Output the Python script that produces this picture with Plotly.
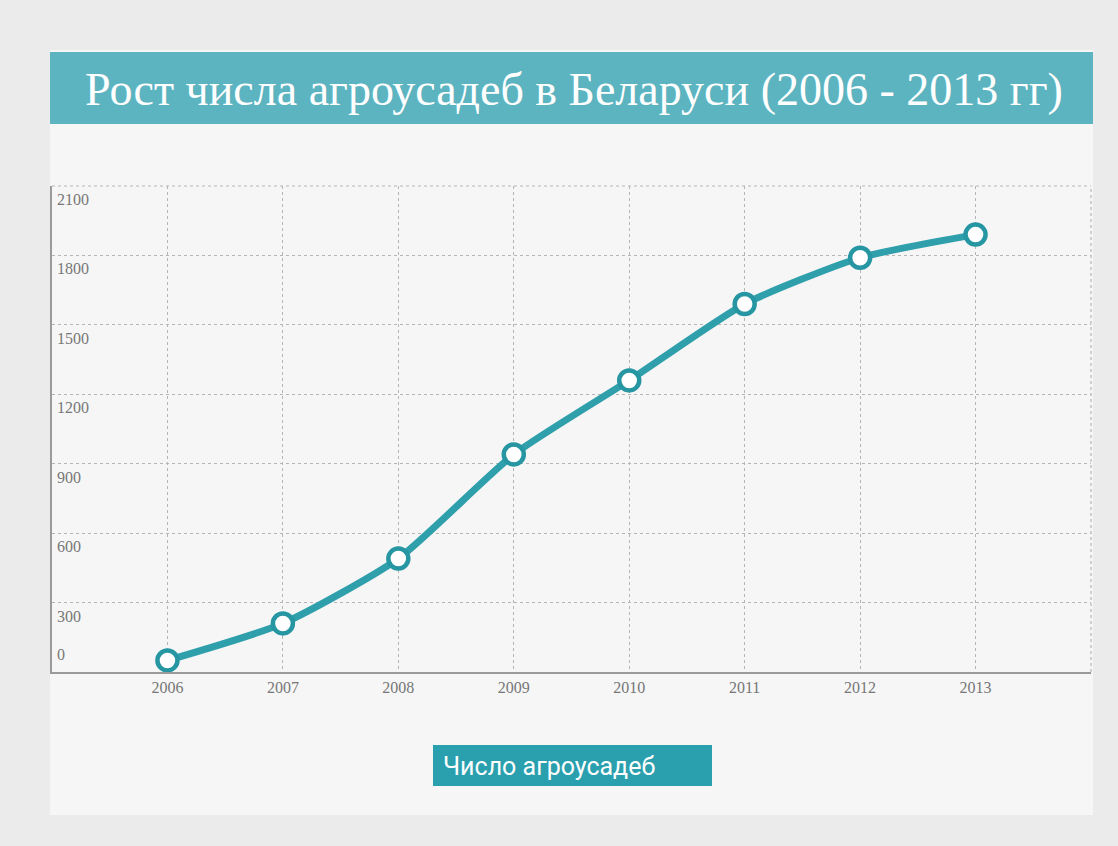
import plotly.graph_objects as go

years = [2006, 2007, 2008, 2009, 2010, 2011, 2012, 2013]
values = [50, 210, 490, 940, 1260, 1590, 1790, 1890]
y_ticks = [0, 300, 600, 900, 1200, 1500, 1800, 2100]
title_text = "Рост числа агроусадеб в Беларуси (2006 - 2013 гг)"
legend_text = "Число агроусадеб"

W, H = 1118, 846
L, R, T, B = 52, 1091, 186, 672

TEAL = "#2e9fab"
TITLE_BG = "#5db4c1"
PANEL = "#f6f6f6"
GRID = "#b5b5b5"
TXT = "#777777"

fig = go.Figure()
fig.add_trace(go.Scatter(
    x=years, y=values, mode="lines+markers",
    line=dict(color=TEAL, width=7, shape="spline", smoothing=0.6),
    marker=dict(size=20, color="white", line=dict(color="#2796a3", width=4.5)),
    showlegend=False, cliponaxis=False,
))


def px(xp):
    # screen pixel -> paper fraction (paper spans the plot area)
    return (xp - L) / (R - L)


def py(yp):
    return (B - yp) / (B - T)


shapes = [
    dict(type="rect", xref="paper", yref="paper", x0=px(50), x1=px(1093), y0=py(815), y1=py(50),
         fillcolor=PANEL, line=dict(width=0), layer="below"),
    dict(type="rect", xref="paper", yref="paper", x0=px(50), x1=px(1093), y0=py(124), y1=py(52),
         fillcolor=TITLE_BG, line=dict(width=0), layer="below"),
    dict(type="rect", xref="paper", yref="paper", x0=px(433), x1=px(712), y0=py(786), y1=py(745),
         fillcolor="#2a9fae", line=dict(width=0), layer="below"),
    dict(type="line", xref="x domain", yref="y domain", x0=1, x1=1, y0=0, y1=1,
         line=dict(color=GRID, width=1.2, dash="dot"), layer="below"),
    dict(type="line", xref="x domain", yref="y domain", x0=0, x1=1, y0=1, y1=1,
         line=dict(color=GRID, width=1.2, dash="dot"), layer="below"),
]

annotations = [
    dict(text=title_text, xref="paper", yref="paper", x=px(574), y=py(89), showarrow=False,
         xanchor="center", yanchor="middle",
         font=dict(family="Liberation Serif, DejaVu Serif, serif", size=46, color="white")),
    dict(text=legend_text, xref="paper", yref="paper", x=px(441), y=py(766), showarrow=False,
         xanchor="left", yanchor="middle",
         font=dict(family="Roboto, Liberation Sans Narrow, sans-serif", size=25, color="white")),
]
for v in y_ticks:
    if v == 0:
        annotations.append(dict(text=str(v), xref="x domain", yref="y", x=0, y=v, showarrow=False,
                                xanchor="left", yanchor="bottom", xshift=3, yshift=7,
                                font=dict(family="Liberation Serif, serif", size=16, color=TXT)))
    else:
        annotations.append(dict(text=str(v), xref="x domain", yref="y", x=0, y=v, showarrow=False,
                                xanchor="left", yanchor="top", xshift=3, yshift=-3,
                                font=dict(family="Liberation Serif, serif", size=16, color=TXT)))

fig.update_layout(
    width=W, height=H,
    margin=dict(l=L, r=W - R, t=T, b=H - B, pad=0),
    paper_bgcolor="#ebebeb",
    plot_bgcolor=PANEL,
    shapes=shapes,
    annotations=annotations,
    xaxis=dict(range=[2005, 2014], tickvals=years, ticktext=[str(y) for y in years],
               showgrid=True, gridcolor=GRID, griddash="dot", gridwidth=1.2,
               showline=True, linecolor="#9a9a9a", linewidth=1.5, ticks="", zeroline=False,
               tickfont=dict(family="Liberation Serif, serif", size=16, color=TXT)),
    yaxis=dict(range=[0, 2100], tickvals=y_ticks, showticklabels=False,
               showgrid=True, gridcolor=GRID, griddash="dot", gridwidth=1.2,
               showline=True, linecolor="#9a9a9a", linewidth=1.5, ticks="", zeroline=False),
)

fig.write_html(
    "out.html",
    config={"displayModeBar": False},
    post_script="document.body.style.margin='0';document.body.style.background='#ebebeb';",
)
